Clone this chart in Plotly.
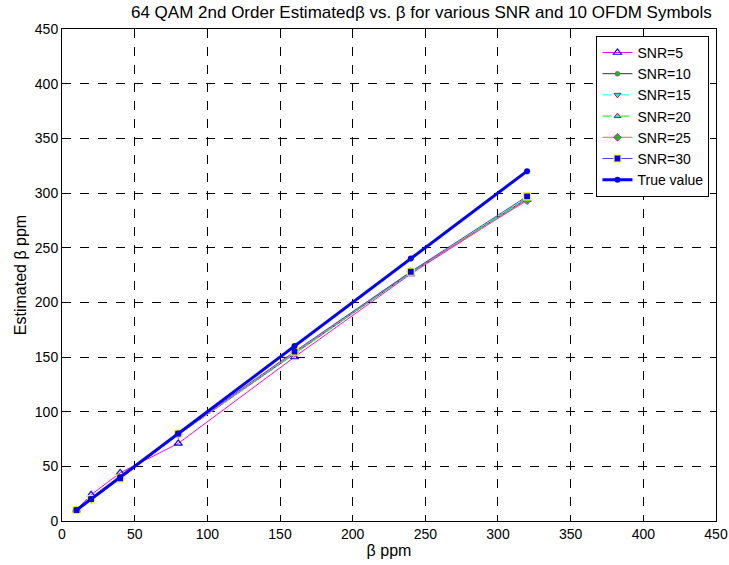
import plotly.graph_objects as go

beta = [10, 20, 40, 80, 160, 240, 320]
snr5 = [10, 24, 44, 71, 150, 226, 294]
snr10 = [10, 19, 39, 79, 153, 227, 295]
snr15 = [10, 19, 39, 79, 153, 227, 295]
snr20 = [10, 19, 39, 79, 153, 227, 296]
snr25 = [10, 20, 39, 79, 154, 228, 293]
snr30 = [10, 20, 39, 80, 155, 228, 297]
true_val = beta

x_ticks = [0, 50, 100, 150, 200, 250, 300, 350, 400, 450]
y_ticks = [0, 50, 100, 150, 200, 250, 300, 350, 400, 450]

series = [
    ("SNR=5", snr5, dict(color="#ff00ff", width=1, dash="solid"),
     dict(symbol="triangle-up-open", size=7, color="#0000ff", line=dict(width=1.2, color="#0000ff"))),
    ("SNR=10", snr10, dict(color="#333333", width=1, dash="solid"),
     dict(symbol="circle", size=5, color="#00cc00", line=dict(width=0.5, color="#ff00ff"))),
    ("SNR=15", snr15, dict(color="#00ffff", width=1, dash="dashdot"),
     dict(symbol="triangle-down", size=6, color="#00ffff", line=dict(width=1, color="#ff0000"))),
    ("SNR=20", snr20, dict(color="#00ff00", width=1, dash="dashdot"),
     dict(symbol="triangle-up", size=6, color="#00ffff", line=dict(width=1, color="#ff0000"))),
    ("SNR=25", snr25, dict(color="#ff6060", width=1, dash="solid"),
     dict(symbol="diamond", size=6, color="#00cc00", line=dict(width=1, color="#ff00ff"))),
    ("SNR=30", snr30, dict(color="#4040ff", width=1, dash="solid"),
     dict(symbol="square", size=7, color="#0000ff", line=dict(width=1.2, color="#ffff00"))),
    ("True value", true_val, dict(color="#0000ff", width=3, dash="solid"),
     dict(symbol="circle", size=6, color="#0000ff", line=dict(width=0, color="#0000ff"))),
]

fig = go.Figure()
for name, vals, ln, mk in series:
    fig.add_trace(go.Scatter(x=beta, y=vals, mode="lines+markers", name=name,
                             line=ln, marker=mk))

axis_common = dict(
    showline=True, linecolor="black", linewidth=1, mirror="ticks",
    ticks="inside", ticklen=5, tickcolor="black",
    showgrid=True, gridcolor="#000000", gridwidth=1, griddash="dash",
    zeroline=False, tickfont=dict(size=14, color="black"),
    ticklabeloverflow="allow", automargin=False,
)

fig.update_layout(
    width=729, height=565,
    margin=dict(l=62, r=13, t=29, b=44),
    paper_bgcolor="white", plot_bgcolor="white",
    font=dict(family="Liberation Sans, Arial, sans-serif", color="black"),
    title=dict(text="64 QAM 2nd Order Estimated\u03b2 vs. \u03b2 for various SNR and 10 OFDM Symbols",
               x=0.578, xanchor="center", y=0.99, yanchor="top", font=dict(size=17)),
    xaxis=dict(range=[0, 450.01], tickvals=x_ticks, title=dict(text="\u03b2 ppm", font=dict(size=16), standoff=4),
               **axis_common),
    yaxis=dict(range=[0, 450.01], tickvals=y_ticks, title=dict(text="Estimated \u03b2 ppm", font=dict(size=16), standoff=4),
               **axis_common),
    legend=dict(x=0.99, y=0.986, xanchor="right", yanchor="top",
                bgcolor="white", bordercolor="black", borderwidth=1,
                font=dict(size=14), tracegroupgap=0, itemwidth=30),
    showlegend=True,
)

fig.write_html("out.html")
